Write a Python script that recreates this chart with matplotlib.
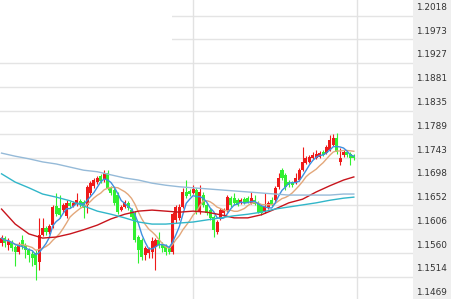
import matplotlib
matplotlib.use('Agg')
import matplotlib.pyplot as plt
from matplotlib.patches import Rectangle
import numpy as np
import pandas as pd

# OHLC candles
opens = [1.1580, 1.1589, 1.1576, 1.1581, 1.1572, 1.1562, 1.1585, 1.1576, 1.1566, 1.1558,
         1.1560, 1.1543, 1.1595, 1.1608, 1.1601, 1.1614, 1.1651, 1.1647, 1.1643, 1.1632,
         1.1657, 1.1651, 1.1655, 1.1661, 1.1659, 1.1653, 1.1676, 1.1690, 1.1697, 1.1709,
         1.1701, 1.1715, 1.1686, 1.1682, 1.1672, 1.1643, 1.1649, 1.1657, 1.1643, 1.1637,
         1.1591, 1.1585, 1.1556, 1.1560, 1.1562, 1.1572, 1.1585, 1.1578, 1.1574, 1.1570,
         1.1562, 1.1624, 1.1628, 1.1649, 1.1678, 1.1680, 1.1676, 1.1682, 1.1639, 1.1672,
         1.1653, 1.1643, 1.1630, 1.1601, 1.1628, 1.1637, 1.1643, 1.1666, 1.1666, 1.1662,
         1.1657, 1.1664, 1.1666, 1.1657, 1.1662, 1.1657, 1.1651, 1.1639, 1.1647, 1.1662,
         1.1662, 1.1688, 1.1720, 1.1711, 1.1697, 1.1697, 1.1695, 1.1701, 1.1720, 1.1734,
         1.1736, 1.1744, 1.1744, 1.1745, 1.1755, 1.1753, 1.1759, 1.1769, 1.1782, 1.1736,
         1.1749, 1.1755, 1.1751, 1.1747]
closes = [1.1589, 1.1580, 1.1583, 1.1570, 1.1562, 1.1576, 1.1574, 1.1566, 1.1556, 1.1551,
          1.1537, 1.1595, 1.1608, 1.1601, 1.1612, 1.1649, 1.1635, 1.1634, 1.1653, 1.1657,
          1.1651, 1.1657, 1.1662, 1.1653, 1.1647, 1.1688, 1.1695, 1.1701, 1.1705, 1.1699,
          1.1715, 1.1686, 1.1676, 1.1657, 1.1639, 1.1649, 1.1659, 1.1647, 1.1630, 1.1585,
          1.1566, 1.1553, 1.1570, 1.1568, 1.1583, 1.1585, 1.1576, 1.1570, 1.1562, 1.1562,
          1.1635, 1.1649, 1.1649, 1.1678, 1.1670, 1.1674, 1.1684, 1.1639, 1.1678, 1.1653,
          1.1637, 1.1628, 1.1605, 1.1620, 1.1643, 1.1643, 1.1668, 1.1653, 1.1657, 1.1653,
          1.1662, 1.1657, 1.1659, 1.1666, 1.1655, 1.1639, 1.1637, 1.1649, 1.1657, 1.1653,
          1.1686, 1.1705, 1.1705, 1.1688, 1.1691, 1.1691, 1.1705, 1.1720, 1.1736, 1.1744,
          1.1745, 1.1749, 1.1751, 1.1753, 1.1749, 1.1765, 1.1778, 1.1782, 1.1755, 1.1744,
          1.1755, 1.1749, 1.1744, 1.1744]
highs = [1.1595, 1.1593, 1.1589, 1.1585, 1.1576, 1.1581, 1.1595, 1.1580, 1.1570, 1.1564,
         1.1566, 1.1628, 1.1628, 1.1612, 1.1616, 1.1653, 1.1676, 1.1672, 1.1657, 1.1662,
         1.1661, 1.1661, 1.1676, 1.1664, 1.1662, 1.1691, 1.1699, 1.1705, 1.1709, 1.1713,
         1.1720, 1.1720, 1.1690, 1.1686, 1.1678, 1.1653, 1.1662, 1.1661, 1.1647, 1.1641,
         1.1595, 1.1589, 1.1574, 1.1572, 1.1591, 1.1589, 1.1601, 1.1581, 1.1578, 1.1574,
         1.1639, 1.1653, 1.1655, 1.1686, 1.1701, 1.1684, 1.1691, 1.1686, 1.1691, 1.1678,
         1.1657, 1.1647, 1.1634, 1.1624, 1.1647, 1.1647, 1.1672, 1.1670, 1.1676, 1.1666,
         1.1666, 1.1668, 1.1670, 1.1678, 1.1672, 1.1661, 1.1655, 1.1676, 1.1661, 1.1668,
         1.1690, 1.1715, 1.1724, 1.1715, 1.1701, 1.1699, 1.1715, 1.1724, 1.1765, 1.1747,
         1.1749, 1.1755, 1.1759, 1.1757, 1.1759, 1.1769, 1.1788, 1.1790, 1.1792, 1.1763,
         1.1759, 1.1759, 1.1755, 1.1751]
lows = [1.1574, 1.1572, 1.1566, 1.1564, 1.1535, 1.1558, 1.1568, 1.1551, 1.1543, 1.1535,
        1.1508, 1.1527, 1.1593, 1.1595, 1.1597, 1.1608, 1.1632, 1.1628, 1.1639, 1.1628,
        1.1647, 1.1649, 1.1651, 1.1649, 1.1628, 1.1637, 1.1672, 1.1686, 1.1693, 1.1695,
        1.1697, 1.1682, 1.1672, 1.1653, 1.1635, 1.1641, 1.1647, 1.1643, 1.1626, 1.1581,
        1.1541, 1.1547, 1.1547, 1.1551, 1.1551, 1.1527, 1.1570, 1.1562, 1.1556, 1.1558,
        1.1558, 1.1618, 1.1624, 1.1647, 1.1666, 1.1670, 1.1674, 1.1635, 1.1635, 1.1649,
        1.1634, 1.1624, 1.1591, 1.1597, 1.1624, 1.1634, 1.1639, 1.1649, 1.1653, 1.1651,
        1.1655, 1.1655, 1.1657, 1.1655, 1.1653, 1.1637, 1.1634, 1.1637, 1.1645, 1.1651,
        1.1659, 1.1684, 1.1701, 1.1682, 1.1688, 1.1688, 1.1693, 1.1699, 1.1718, 1.1732,
        1.1734, 1.1742, 1.1742, 1.1744, 1.1747, 1.1751, 1.1757, 1.1767, 1.1751, 1.1730,
        1.1745, 1.1745, 1.1730, 1.1740]

# long moving averages, read every 4th candle
ma_idx = [0, 4, 8, 12, 16, 20, 24, 28, 32, 36, 40, 44, 48, 52, 56, 60, 64, 68, 72, 76,
          80, 84, 88, 92, 96, 100, 103]
ma_red = [1.1645, 1.1616, 1.1597, 1.1589, 1.1591, 1.1597, 1.1605, 1.1614, 1.1626, 1.1635,
          1.1641, 1.1643, 1.1641, 1.1639, 1.1641, 1.1639, 1.1634, 1.1628, 1.1628, 1.1634,
          1.1645, 1.1657, 1.1664, 1.1678, 1.1690, 1.1701, 1.1707]
ma_cyan = [1.1713, 1.1697, 1.1686, 1.1674, 1.1668, 1.1661, 1.1651, 1.1641, 1.1635, 1.1628,
           1.1620, 1.1616, 1.1616, 1.1618, 1.1620, 1.1624, 1.1628, 1.1632, 1.1635, 1.1639,
           1.1645, 1.1649, 1.1653, 1.1657, 1.1662, 1.1666, 1.1668]
ma_slow = [1.1753, 1.1747, 1.1742, 1.1736, 1.1732, 1.1726, 1.1720, 1.1717, 1.1711, 1.1705,
           1.1701, 1.1695, 1.1691, 1.1688, 1.1686, 1.1684, 1.1682, 1.1680, 1.1678, 1.1676,
           1.1674, 1.1672, 1.1672, 1.1672, 1.1672, 1.1674, 1.1674]

y_ticks = [1.2018, 1.1973, 1.1927, 1.1881, 1.1835, 1.1789, 1.1743, 1.1698, 1.1652,
           1.1606, 1.1560, 1.1514, 1.1469]

UP = '#ee1a1a'
DOWN = '#30f030'

fig = plt.figure(figsize=(4.51, 2.99), dpi=100)
fig.patch.set_facecolor('white')
# grey price panel on the right
fig.patches.append(Rectangle((413 / 451, 0), 38 / 451, 1, transform=fig.transFigure,
                             facecolor='#efefef', edgecolor='none', zorder=0))
ax = fig.add_axes([0, 0, 413 / 451, 1])
ax.set_facecolor('white')
for s in ax.spines.values():
    s.set_visible(False)
ax.set_xticks([])
ax.set_yticks([])
ax.set_ylim(1.14714, 1.20485)
ax.set_xlim(-0.45, 120.3)

# grid
for v in y_ticks:
    ax.axhline(v, color='#e4e4e4', lw=1.0, zorder=0)
for xv in [56, 104]:
    ax.axvline(xv, color='#e2e2e2', lw=1.0, zorder=0)
# watermark area covers the top-left grid
ax.add_patch(Rectangle((0, 0.83), 172 / 413, 0.17, transform=ax.transAxes,
                       facecolor='white', edgecolor='none', zorder=0.5))

o = np.array(opens)
c = np.array(closes)
h = np.array(highs)
l = np.array(lows)
x = np.arange(len(o))
cols = [UP if cc >= oo else DOWN for oo, cc in zip(o, c)]

ax.vlines(x, l, h, colors=cols, lw=0.8, zorder=2)
body = np.maximum(np.abs(c - o), 0.00015)
ax.bar(x, body, bottom=np.minimum(o, c), width=0.88, color=cols, zorder=3)

# moving averages
cs = pd.Series(closes)
ax.plot(x, cs.rolling(10, min_periods=1).mean(), color='#e3a77a', lw=1.0, zorder=4)
ax.plot(x, cs.rolling(5, min_periods=1).mean(), color='#3d8fe0', lw=1.0, zorder=4)
ax.plot(ma_idx, ma_red, color='#c8141c', lw=1.0, zorder=4)
ax.plot(ma_idx, ma_cyan, color='#31b6c9', lw=1.0, zorder=4)
ax.plot(ma_idx, ma_slow, color='#95bad8', lw=1.0, zorder=4)

# price labels sit just above their grid line
for v in y_ticks:
    yy = ax.transData.transform((0, v))[1] + 8
    fig.text(416 / 451, yy / 299, f'{v:.4f}', fontsize=6.4, color='#333333',
             va='center', ha='left')

fig.savefig('out.png', dpi=100, facecolor='white')
